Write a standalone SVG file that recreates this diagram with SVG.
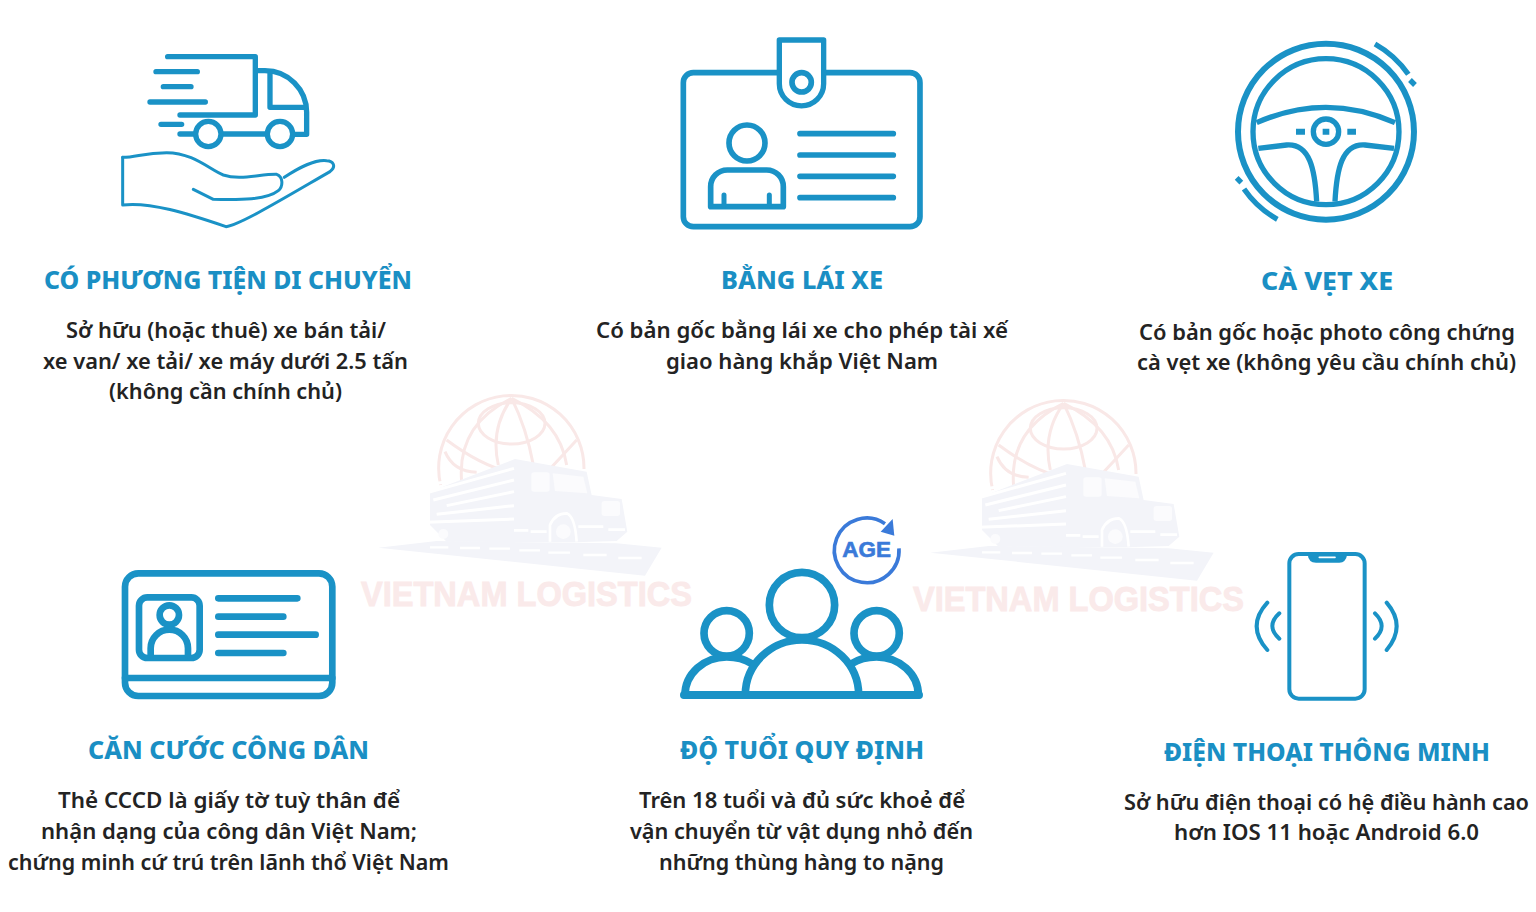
<svg xmlns="http://www.w3.org/2000/svg" xmlns:xlink="http://www.w3.org/1999/xlink" width="1536" height="912" viewBox="0 0 1536 912">
<style>
.h{font-family:"Noto Sans","DejaVu Sans",sans-serif;font-weight:800;font-size:24px;fill:#1a8fc4;text-anchor:middle}
.b{font-family:"Noto Sans","DejaVu Sans",sans-serif;font-weight:600;font-size:21.5px;fill:#232323;text-anchor:middle}
.wm{font-family:"Liberation Sans",sans-serif;font-weight:700;font-size:35px;fill:#faeaea;stroke:#faeaea;stroke-width:.9}
.ic{fill:none;stroke:#1a92c6;stroke-linecap:round;stroke-linejoin:round}
.ag{fill:none;stroke:#3a7ad9;stroke-width:11}
</style>
<defs>
<g id="mark">
<g fill="none" stroke="#f9e8e7" stroke-width="9">
<path d="M212,300A218,218 0 1 1 642,252"/>
<ellipse cx="425" cy="115" rx="100" ry="62"/>
<path d="M425,40Q360,130 385,240M425,40Q470,130 490,240M425,40Q260,120 275,290M425,40Q570,110 590,240"/>
<path d="M230,165Q330,240 420,262M620,165Q570,220 530,262M225,200Q250,260 320,262"/>
</g>
<path fill="#f3f4f9" d="M180,320L435,222L650,260L665,330L755,342L772,440L740,468L610,472L230,470L180,420Z"/>
<path fill="#f3f4f9" d="M25,488L200,468L740,475L875,488L825,572Z"/>
<g fill="none" stroke="#fff">
<path stroke-width="9" d="M175,322L432,250M190,345L432,285M230,362L432,320M200,388L432,362M170,412L432,402M170,300L230,290"/>
<path d="M180,487H235M270,489H330M358,491H420M448,496H510M535,503H600M640,510H710M745,519H815" stroke-width="7"/>
<path stroke-width="8" d="M432,436H475M482,440H530M625,425H700M715,434H765"/>
<path stroke-width="8" d="M540,470V420Q555,385 590,385Q615,395 620,470"/>
</g>
<rect x="484" y="262" width="55" height="58" rx="8" fill="#fbfbfd"/>
<path fill="#fbfbfd" d="M548,265L640,275L652,325L555,318Z"/>
<rect x="695" y="348" width="55" height="45" rx="8" fill="#fbfbfd"/>
<circle cx="580" cy="440" r="22" fill="#fbfbfd"/><circle cx="220" cy="447" r="15" fill="#fbfbfd"/>
</g>
</defs>
<rect width="1536" height="912" fill="#fff"/>
<g id="watermark-1"><use href="#mark" transform="translate(370,385) scale(.3333)"/><text class="wm" x="361" y="606" textLength="331" lengthAdjust="spacingAndGlyphs">VIETNAM LOGISTICS</text></g>
<g id="watermark-2"><use href="#mark" transform="translate(922,390) scale(.3333)"/><text class="wm" x="913" y="611" textLength="331" lengthAdjust="spacingAndGlyphs">VIETNAM LOGISTICS</text></g>

<g id="node-vehicle">
<g class="ic" transform="translate(100,30) scale(.3333)" stroke-width="16">
<path d="M203,80H466V255H240M472,122H495A125,125 0 0 1 620,247V313H585M370,312H495M240,312H280M510,130V232H612M168,125H292M190,170H273M150,216H316M183,283H245"/>
<circle cx="325" cy="312" r="38"/><circle cx="540" cy="312" r="38"/>
<g stroke-width="9"><path d="M68,382V525C150,515 260,550 378,590C420,585 560,500 690,425C710,410 700,392 680,392C650,388 600,410 553,442"/>
<path d="M68,382C110,382 130,368 200,368C280,368 330,420 370,435C420,452 480,432 530,433C550,440 550,470 535,482C500,510 420,510 340,508L280,478"/></g>
</g>
<text class="h" x="228" y="289" textLength="368" lengthAdjust="spacingAndGlyphs">CÓ PHƯƠNG TIỆN DI CHUYỂN</text>
<text class="b" x="226" y="338" textLength="320" lengthAdjust="spacingAndGlyphs">Sở hữu (hoặc thuê) xe bán tải/</text>
<text class="b" x="225.500" y="368.500" textLength="365" lengthAdjust="spacingAndGlyphs">xe van/ xe tải/ xe máy dưới 2.5 tấn</text>
<text class="b" x="225.500" y="399" textLength="233" lengthAdjust="spacingAndGlyphs">(không cần chính chủ)</text>
</g>

<g id="node-license">
<g class="ic" transform="translate(660,30) scale(.3333)" stroke-width="17">
<rect x="70" y="128" width="710" height="462" rx="30"/>
<path fill="#fff" stroke-width="16" d="M358,30H491V161A66.500,66.500 0 0 1 358,161Z"/>
<circle cx="425" cy="157" r="29"/><circle cx="261" cy="339" r="54"/>
<path d="M152,530V470A50,50 0 0 1 202,420H320A50,50 0 0 1 370,470V530Z"/>
<path stroke-width="15" d="M192,495V525M328,495V525"/>
<path d="M420,311H700M420,375H700M420,439H700M420,503H700"/>
</g>
<text class="h" x="802" y="289" textLength="162" lengthAdjust="spacingAndGlyphs">BẰNG LÁI XE</text>
<text class="b" x="802" y="338" textLength="412" lengthAdjust="spacingAndGlyphs">Có bản gốc bằng lái xe cho phép tài xế</text>
<text class="b" x="802" y="368.500" textLength="272" lengthAdjust="spacingAndGlyphs">giao hàng khắp Việt Nam</text>
</g>

<g id="node-registration">
<g class="ic" transform="translate(1220,30) scale(.3333)" stroke-width="16">
<circle cx="318" cy="305" r="264" stroke-width="18"/><circle cx="318" cy="305" r="219"/>
<g style="stroke-linecap:butt">
<path d="M465,42A301,301 0 0 1 565,133M172,568A301,301 0 0 1 72,477M570,150L585,165M50,444L64,458" stroke-width="16"/>
<path d="M110,278Q318,186 525,278M115,355L200,345C270,340 285,420 290,515M522,355L435,345C365,340 350,420 345,515"/>
</g>
<circle cx="318" cy="305" r="38"/>
<path fill="#1a92c6" stroke="none" d="M308,296H328V314H308ZM228,296H255V314H228ZM382,296H408V314H382Z"/>
</g>
<text class="h" x="1327" y="290" textLength="132" lengthAdjust="spacingAndGlyphs">CÀ VẸT XE</text>
<text class="b" x="1327" y="339.500" textLength="376" lengthAdjust="spacingAndGlyphs">Có bản gốc hoặc photo công chứng</text>
<text class="b" x="1326.500" y="370" textLength="379" lengthAdjust="spacingAndGlyphs">cà vẹt xe (không yêu cầu chính chủ)</text>
</g>

<g id="node-id-card">
<g class="ic" transform="translate(110,560) scale(.3333)" stroke-width="20">
<rect x="45" y="40" width="622" height="368" rx="40"/>
<path d="M45,354H667"/>
<rect x="87" y="112" width="182" height="182" rx="25"/>
<circle cx="178" cy="165" r="29"/>
<path d="M122,285V265A56,56 0 0 1 234,265V285"/>
<path d="M325,115H562M325,170H520M325,224H617M325,279H520"/>
</g>
<text class="h" x="228.500" y="759" textLength="281" lengthAdjust="spacingAndGlyphs">CĂN CƯỚC CÔNG DÂN</text>
<text class="b" x="229" y="808" textLength="342" lengthAdjust="spacingAndGlyphs">Thẻ CCCD là giấy tờ tuỳ thân để</text>
<text class="b" x="229" y="838.500" textLength="376" lengthAdjust="spacingAndGlyphs">nhận dạng của công dân Việt Nam;</text>
<text class="b" x="228.500" y="869.500" textLength="441" lengthAdjust="spacingAndGlyphs">chứng minh cứ trú trên lãnh thổ Việt Nam</text>
</g>

<g id="node-age">
<g transform="translate(670,505) scale(.3333)">
<g class="ic" stroke-width="23">
<circle cx="396" cy="300" r="98"/><circle cx="170" cy="385" r="68"/><circle cx="620" cy="385" r="68"/>
<path d="M45,570A125,114 0 0 1 170,456Q215,456 245,476"/>
<path d="M745,570A125,114 0 0 0 620,456Q575,456 545,476"/>
<path d="M226,570A170,165 0 0 1 566,570"/>
<path d="M42,570H747" stroke-width="24"/>
</g>
<path class="ag" d="M687,130A97,97 0 1 1 645,56"/>
<path fill="#3a7ad9" d="M673,92L668,42L632,80Z"/>
<text x="590" y="155" text-anchor="middle" font-family="Liberation Sans,sans-serif" font-weight="700" font-size="68" fill="#3a7ad9" stroke="#3a7ad9" stroke-width="2" textLength="146" lengthAdjust="spacingAndGlyphs">AGE</text>
</g>
<text class="h" x="802" y="759" textLength="244" lengthAdjust="spacingAndGlyphs">ĐỘ TUỔI QUY ĐỊNH</text>
<text class="b" x="802" y="808" textLength="326" lengthAdjust="spacingAndGlyphs">Trên 18 tuổi và đủ sức khoẻ để</text>
<text class="b" x="801.500" y="838.500" textLength="343" lengthAdjust="spacingAndGlyphs">vận chuyển từ vật dụng nhỏ đến</text>
<text class="b" x="801.500" y="869.500" textLength="285" lengthAdjust="spacingAndGlyphs">những thùng hàng to nặng</text>
</g>

<g id="node-phone">
<g class="ic" transform="translate(1240,540) scale(.3333)" stroke-width="12">
<rect x="148" y="42" width="226" height="434" rx="28"/>
<path fill="#1a92c6" stroke="none" d="M203,42Q205,68 228,68H298Q318,68 322,42Z"/>
<path stroke="#fff" stroke-width="5" d="M238,52H285"/>
<path d="M82,188Q18,258 82,330M118,220Q76,258 118,296M440,188Q500,258 440,330M405,220Q445,258 405,296"/>
</g>
<text class="h" x="1327" y="761" textLength="326" lengthAdjust="spacingAndGlyphs">ĐIỆN THOẠI THÔNG MINH</text>
<text class="b" x="1326.500" y="809.500" textLength="405" lengthAdjust="spacingAndGlyphs">Sở hữu điện thoại có hệ điều hành cao</text>
<text class="b" x="1326.500" y="840" textLength="305" lengthAdjust="spacingAndGlyphs">hơn IOS 11 hoặc Android 6.0</text>
</g>
<g id="connectors"/>
</svg>
